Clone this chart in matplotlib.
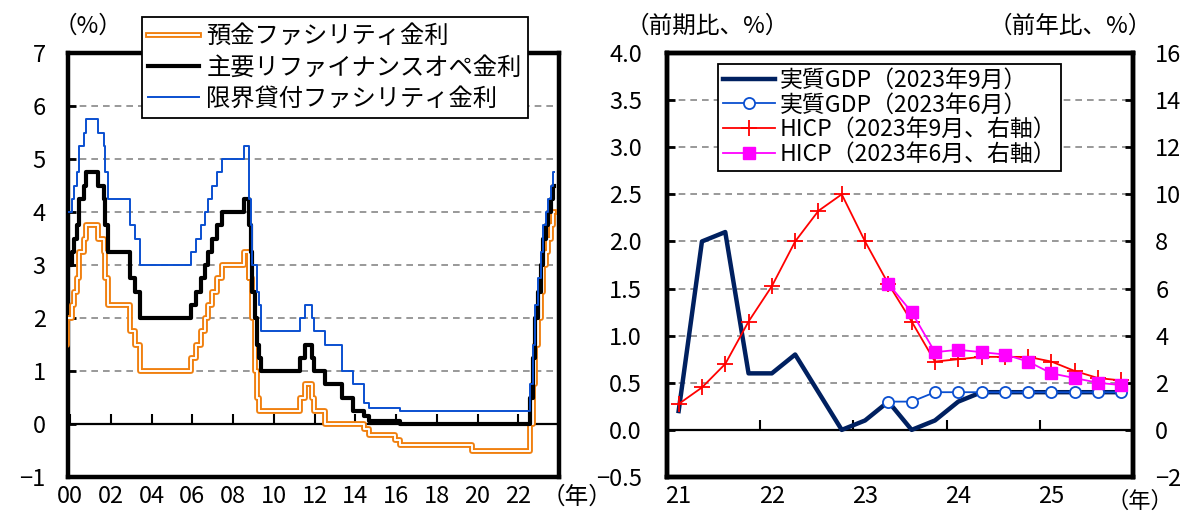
import numpy as np
import pandas as pd
import matplotlib
matplotlib.use("Agg")
import matplotlib.pyplot as plt

plt.rcParams['font.family'] = ['Noto Sans CJK JP', 'DejaVu Sans']
plt.rcParams['font.size'] = 17

# ECB policy rates (%), effective date of each change
rate_dates = [
    "1999-01-01", "1999-01-04", "1999-01-22", "1999-04-09", "1999-11-05",
    "2000-02-04", "2000-03-17", "2000-04-28", "2000-06-09", "2000-09-01",
    "2000-10-06", "2001-05-11", "2001-08-31", "2001-09-18", "2001-11-09",
    "2002-12-06", "2003-03-07", "2003-06-06", "2005-12-06", "2006-03-08",
    "2006-06-15", "2006-08-09", "2006-10-11", "2006-12-13", "2007-03-14",
    "2007-06-13", "2008-07-09", "2008-10-08", "2008-10-09", "2008-10-15",
    "2008-11-12", "2008-12-10", "2009-01-21", "2009-03-11", "2009-04-08",
    "2009-05-13", "2011-04-13", "2011-07-13", "2011-11-09", "2011-12-14",
    "2012-07-11", "2013-05-08", "2013-11-13", "2014-06-11", "2014-09-10",
    "2015-12-09", "2016-03-16", "2019-09-18", "2022-07-27", "2022-09-14",
    "2022-11-02", "2022-12-21", "2023-02-08", "2023-03-22", "2023-05-10",
    "2023-06-21", "2023-08-02", "2023-09-20", "2023-09-30",
]
deposit_rate = [
    2.00, 2.75, 2.00, 1.50, 2.00,
    2.25, 2.50, 2.75, 3.25, 3.50,
    3.75, 3.50, 3.25, 2.75, 2.25,
    1.75, 1.50, 1.00, 1.25, 1.50,
    1.75, 2.00, 2.25, 2.50, 2.75,
    3.00, 3.25, 2.75, 3.25, 3.25,
    2.75, 2.00, 1.00, 0.50, 0.25,
    0.25, 0.50, 0.75, 0.50, 0.25,
    0.00, 0.00, 0.00, -0.10, -0.20,
    -0.30, -0.40, -0.50, 0.00, 0.75,
    1.50, 2.00, 2.50, 3.00, 3.25,
    3.50, 3.75, 4.00, 4.00,
]
mro_rate = [
    3.00, 3.00, 3.00, 2.50, 3.00,
    3.25, 3.50, 3.75, 4.25, 4.50,
    4.75, 4.50, 4.25, 3.75, 3.25,
    2.75, 2.50, 2.00, 2.25, 2.50,
    2.75, 3.00, 3.25, 3.50, 3.75,
    4.00, 4.25, 4.25, 4.25, 3.75,
    3.25, 2.50, 2.00, 1.50, 1.25,
    1.00, 1.25, 1.50, 1.25, 1.00,
    0.75, 0.50, 0.25, 0.15, 0.05,
    0.05, 0.00, 0.00, 0.50, 1.25,
    2.00, 2.50, 3.00, 3.50, 3.75,
    4.00, 4.25, 4.50, 4.50,
]
marginal_rate = [
    4.50, 3.25, 4.50, 3.50, 4.00,
    4.25, 4.50, 4.75, 5.25, 5.50,
    5.75, 5.50, 5.25, 4.75, 4.25,
    3.75, 3.50, 3.00, 3.25, 3.50,
    3.75, 4.00, 4.25, 4.50, 4.75,
    5.00, 5.25, 4.75, 4.25, 4.25,
    3.75, 3.00, 3.00, 2.50, 2.25,
    1.75, 2.00, 2.25, 2.00, 1.75,
    1.50, 1.00, 0.75, 0.40, 0.30,
    0.30, 0.25, 0.25, 0.75, 1.50,
    2.25, 2.75, 3.25, 3.75, 4.00,
    4.25, 4.50, 4.75, 4.75,
]
year_ticks = list(range(2000, 2023, 2))

# ECB staff projections, quarterly 2021Q1-2025Q4
quarters = pd.period_range("2021Q1", "2025Q4", freq="Q")
gdp_sep = [0.2, 2.0, 2.1, 0.6, 0.6, 0.8, 0.4, 0.0, 0.1, 0.3,
           0.0, 0.1, 0.3, 0.4, 0.4, 0.4, 0.4, 0.4, 0.4, 0.4]
gdp_jun = [np.nan] * 9 + [0.3, 0.3, 0.4, 0.4, 0.4, 0.4, 0.4, 0.4, 0.4, 0.4, 0.4]
hicp_sep = [1.1, 1.8, 2.8, 4.6, 6.1, 8.0, 9.3, 10.0, 8.0, 6.2,
            4.6, 2.9, 3.0, 3.1, 3.1, 3.1, 2.9, 2.5, 2.2, 2.1]
hicp_jun = [np.nan] * 9 + [6.2, 5.0, 3.3, 3.4, 3.3, 3.2, 2.9, 2.4, 2.2, 2.0, 1.9]

W, H = 1181, 511
fig = plt.figure(figsize=(W / 100, H / 100), dpi=100)


def frac(x0, y0, x1, y1):
    return [x0 / W, 1 - y1 / H, (x1 - x0) / W, (y1 - y0) / H]


def style_box(ax, ypad=12):
    for s in ax.spines.values():
        s.set_linewidth(3.2)
    ax.tick_params(axis='y', direction='in', length=6, width=2, pad=ypad)
    ax.tick_params(axis='x', length=0, pad=6)


grid_kw = dict(color='#888888', lw=1.2, ls=(0, (4, 3)), zorder=0.5)
legend_kw = dict(loc='upper left', bbox_transform=fig.transFigure, borderaxespad=0,
                 fancybox=False, edgecolor='black', framealpha=1)

# ---- left: policy rates ----
ax1 = fig.add_axes(frac(68, 53, 559, 477))
d = pd.to_datetime(rate_dates)
t = d.year + (d.dayofyear - 1) / (365 + d.is_leap_year)

l_dep = ax1.step(t, deposit_rate, where='post', color='#F08010', lw=4.2, zorder=3)[0]
w_dep = ax1.step(t, deposit_rate, where='post', color='white', lw=1.4, zorder=3.1)[0]
l_mro = ax1.step(t, mro_rate, where='post', color='black', lw=3.0, zorder=4)[0]
l_mar = ax1.step(t, marginal_rate, where='post', color='#0A4FD0', lw=1.4, zorder=5)[0]

ax1.set_xlim(1999.9, 2024.0)
ax1.set_ylim(-1, 7)
ax1.set_yticks(range(-1, 8))
ax1.set_yticklabels([str(v).replace("-", "−") for v in range(-1, 8)])
for y in range(1, 7):
    ax1.axhline(y, **grid_kw)
ax1.set_xticks(year_ticks, [f"{y % 100:02d}" for y in year_ticks])
style_box(ax1, ypad=16)

z1 = ax1.secondary_xaxis(1 / 8)
z1.set_xticks(year_ticks)
z1.tick_params(direction='in', length=7, width=1.5, labelbottom=False)
z1.spines['bottom'].set_linewidth(1.6)

leg1 = ax1.legend([(l_dep, w_dep), l_mro, l_mar],
                  ["預金ファシリティ金利", "主要リファイナンスオペ金利", "限界貸付ファシリティ金利"],
                  bbox_to_anchor=(142 / W, 1 - 17 / H), fontsize=17.5, handlelength=2.1,
                  handletextpad=0.3, labelspacing=0.22, borderpad=0.25, **legend_kw)
leg1.get_frame().set_linewidth(1.3)

fig.text(88 / W, 1 - 26 / H, "（%）", ha='center', va='center')
fig.text(577 / W, 1 - 497 / H, "（年）", ha='center', va='center')

# ---- right: GDP and HICP projections ----
ax2 = fig.add_axes(frac(667, 53, 1133, 477))
ax3 = ax2.twinx()
xq = np.arange(len(quarters))

g9, = ax2.plot(xq, gdp_sep, color='#002060', lw=3.2, zorder=3)
g6, = ax2.plot(xq, gdp_jun, color='#0A4FD0', lw=1.3, marker='o', ms=8,
               mfc='white', mec='#0A4FD0', mew=1.3, zorder=4)
h9, = ax3.plot(xq, hicp_sep, color='#FF0000', lw=1.3, marker='+', ms=11,
               mew=1.3, zorder=3)
h6, = ax3.plot(xq, hicp_jun, color='#FF00FF', lw=1.3, marker='s', ms=9,
               mfc='#FF00FF', mec='#FF00FF', zorder=4)

ax2.set_xlim(-0.5, len(quarters) - 0.5)
ax2.set_ylim(-0.5, 4.0)
ax3.set_ylim(-2, 16)
ax2.set_yticks(np.arange(-0.5, 4.01, 0.5))
ax2.set_yticklabels([f"{v:.1f}".replace("-", "−") for v in np.arange(-0.5, 4.01, 0.5)])
ax3.set_yticks(range(-2, 17, 2))
ax3.set_yticklabels([str(v).replace("-", "−") for v in range(-2, 17, 2)])
for y in np.arange(0.5, 3.6, 0.5):
    ax2.axhline(y, **grid_kw)
year_pos = [i for i, q in enumerate(quarters) if q.quarter == 1]
ax2.set_xticks(year_pos, [f"{quarters[i].year % 100:02d}" for i in year_pos])
style_box(ax2, ypad=18)
style_box(ax3, ypad=16)

z2 = ax2.secondary_xaxis(0.5 / 4.5)
z2.set_xticks([p - 0.5 for p in year_pos[1:]])
z2.tick_params(direction='in', length=7, width=1.5, labelbottom=False)
z2.spines['bottom'].set_linewidth(1.6)

leg2 = ax3.legend([g9, g6, h9, h6],
                  ["実質GDP（2023年9月）", "実質GDP（2023年6月）",
                   "HICP（2023年9月、右軸）", "HICP（2023年6月、右軸）"],
                  bbox_to_anchor=(718 / W, 1 - 64 / H), fontsize=16.5, handlelength=2.3,
                  handletextpad=0.2, labelspacing=0.08, borderpad=0.2, **legend_kw)
leg2.get_frame().set_linewidth(1.3)

fig.text(707 / W, 1 - 26 / H, "（前期比、%）", ha='center', va='center')
fig.text(1070 / W, 1 - 26 / H, "（前年比、%）", ha='center', va='center')
fig.text(1140 / W, 1 - 501 / H, "（年）", ha='center', va='center', fontsize=16)

fig.savefig("out.png", dpi=100)
